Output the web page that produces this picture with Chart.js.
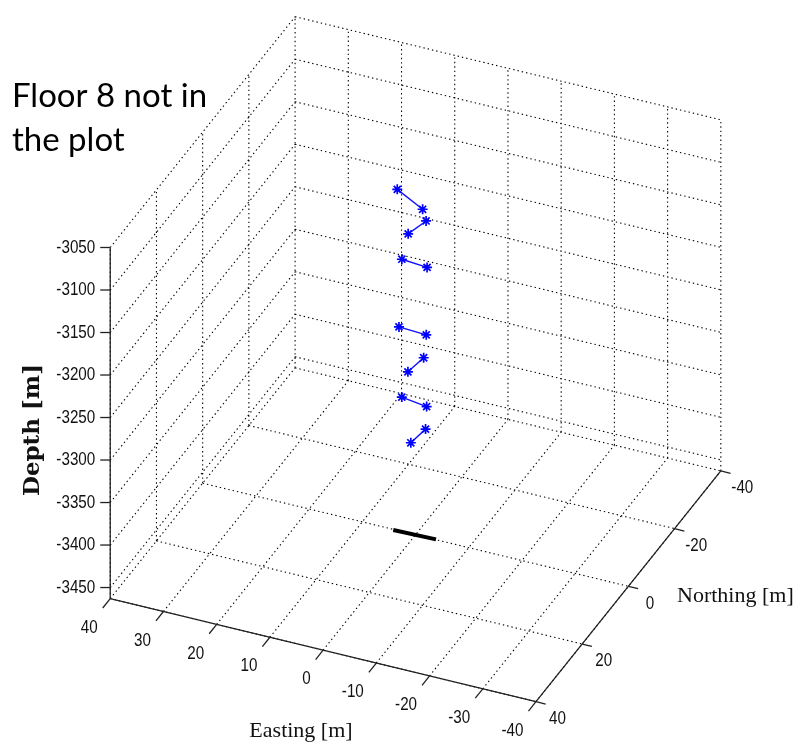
<!DOCTYPE html>
<html><head><meta charset="utf-8">
<script src="https://cdn.jsdelivr.net/npm/chart.js@4"></script>
<style>html,body{margin:0;padding:0;background:#fff}</style>
</head><body>
<canvas id="c" width="800" height="747"></canvas>
<script>
// ---- tick values / axis limits ----
const eastingTicks  = [40, 30, 20, 10, 0, -10, -20, -30, -40];
const northingTicks = [-40, -20, 0, 20, 40];
const depthTicks    = [-3050, -3100, -3150, -3200, -3250, -3300, -3350, -3400, -3450];
const eastingRange  = [-40, 40];
const northingRange = [-40, 40];
const depthRange    = [-3463, -3050];

// ---- data: sensor pairs per floor (start / end point) ----
const floorDepth  = [-3070, -3101, -3144, -3224, -3263, -3307, -3346];
const eastStart   = [4.3, -0.9, 2.7, 3.2, -0.4, 2.8, -0.8];
const eastEnd     = [-2.2, 0.3, -2.3, -2.1, 0.3, -2.3, -0.2];
const northStart  = [-2.0, -2.5, -0.3, -0.2, -2.6, -0.5, -2.5];
const northEnd    = [2.0, 2.5, 0.3, 0.2, 2.6, 0.5, 2.5];

// ---- black line on the floor ----
const lineEasting  = [4.1, -3.8];
const lineNorthing = [0.2, -0.1];
const lineDepth    = [-3463, -3463];

// ---- view (orthographic projection of the 3-D box onto the page) ----
const VIEW = {ox:105.3, oy:602.7, eX:433, eY:105, nX:188, nY:-235, h:357.5};
function proj(E, N, z){
  const a = (eastingRange[1]-E)/(eastingRange[1]-eastingRange[0]);
  const b = (northingRange[1]-N)/(northingRange[1]-northingRange[0]);
  const c = (z-depthRange[0])/(depthRange[1]-depthRange[0]);
  return {x: VIEW.ox + a*VIEW.eX + b*VIEW.nX, y: VIEW.oy + a*VIEW.eY + b*VIEW.nY - c*VIEW.h};
}

const [Emin, Emax] = eastingRange, [Nmin, Nmax] = northingRange, [Zmin, Zmax] = depthRange;
const gridSegs = [];
northingTicks.forEach(n => gridSegs.push([[Emax,n,Zmin],[Emax,n,Zmax]]));
depthTicks.forEach(z => gridSegs.push([[Emax,Nmax,z],[Emax,Nmin,z]]));
eastingTicks.forEach(e => gridSegs.push([[e,Nmin,Zmin],[e,Nmin,Zmax]]));
depthTicks.forEach(z => gridSegs.push([[Emax,Nmin,z],[Emin,Nmin,z]]));
eastingTicks.forEach(e => gridSegs.push([[e,Nmax,Zmin],[e,Nmin,Zmin]]));
northingTicks.forEach(n => gridSegs.push([[Emax,n,Zmin],[Emin,n,Zmin]]));

function segData(segs){
  const out = [];
  segs.forEach(s => { out.push(proj(...s[0])); out.push(proj(...s[1])); out.push({x:null, y:null}); });
  return out;
}
const axisSegs = [
  [[Emax,Nmax,Zmin],[Emax,Nmax,Zmax]],
  [[Emax,Nmax,Zmin],[Emin,Nmax,Zmin]],
  [[Emin,Nmax,Zmin],[Emin,Nmin,Zmin]]
];

const datasets = [];
datasets.push({data: segData(gridSegs), showLine:true, borderColor:'#000', borderWidth:1.1,
  borderDash:[1.4,3], pointRadius:0, spanGaps:false, order:10});
datasets.push({data: segData(axisSegs), showLine:true, borderColor:'#222', borderWidth:1.3,
  pointRadius:0, spanGaps:false, order:9});
datasets.push({data: lineEasting.map((e,i)=>proj(e, lineNorthing[i], lineDepth[i])), showLine:true,
  borderColor:'#000', borderWidth:4, pointRadius:0, order:2});
floorDepth.forEach((z,i) => {
  datasets.push({data:[proj(eastStart[i], northStart[i], z), proj(eastEnd[i], northEnd[i], z)],
    showLine:true, borderColor:'#1010ff', borderWidth:1.4, pointStyle:'star', pointRadius:5,
    pointBorderColor:'#0000ff', pointBorderWidth:1.7, pointBackgroundColor:'#0000ff', order:1});
});

function narrowText(ctx, txt, x, y, align){
  ctx.save();
  ctx.translate(x, y); ctx.scale(0.8, 1);
  ctx.textAlign = align; ctx.textBaseline = 'middle';
  ctx.fillText(txt, 0, 0);
  ctx.restore();
}

const textPlugin = {
  id:'text3d',
  afterDatasetsDraw(chart){
    const ctx = chart.ctx, sx = chart.scales.x, sy = chart.scales.y;
    const px = p => ({x: sx.getPixelForValue(p.x), y: sy.getPixelForValue(p.y)});
    ctx.save();
    ctx.strokeStyle = '#222'; ctx.lineWidth = 1.3; ctx.fillStyle = '#111';
    ctx.font = '19px "Liberation Sans", Arial, sans-serif';
    depthTicks.forEach(z => {
      const p = px(proj(Emax, Nmax, z));
      ctx.beginPath(); ctx.moveTo(p.x, p.y); ctx.lineTo(p.x-10, p.y); ctx.stroke();
      narrowText(ctx, String(z), p.x-15, p.y, 'right');
    });
    eastingTicks.forEach(e => {
      const p = px(proj(e, Nmax, Zmin));
      ctx.beginPath(); ctx.moveTo(p.x, p.y); ctx.lineTo(p.x-7.5, p.y+9.4); ctx.stroke();
      narrowText(ctx, String(e), p.x-12.5, p.y+29, 'right');
    });
    northingTicks.forEach(n => {
      const p = px(proj(Emin, n, Zmin));
      ctx.beginPath(); ctx.moveTo(p.x, p.y); ctx.lineTo(p.x+9.7, p.y+2.4); ctx.stroke();
      narrowText(ctx, String(n), p.x+21.5, p.y+17, 'center');
    });
    ctx.fillStyle = '#111';
    ctx.font = '22px "Liberation Serif", serif';
    ctx.textAlign='center'; ctx.textBaseline='middle';
    ctx.fillText('Easting [m]', 301, 731);
    ctx.textAlign='left';
    ctx.fillText('Northing [m]', 677, 596);
    ctx.save();
    ctx.translate(33, 430); ctx.rotate(-Math.PI/2);
    ctx.font = 'bold 23px "DejaVu Serif", serif';
    ctx.textAlign='center'; ctx.textBaseline='middle';
    ctx.fillText('Depth [m]', 0, 0);
    ctx.restore();
    ctx.fillStyle = '#000';
    ctx.font = '33px Lato, "Noto Sans", sans-serif';
    ctx.textAlign='left'; ctx.textBaseline='alphabetic';
    ctx.fillText('Floor 8 not in', 12, 107);
    ctx.fillText('the plot', 12, 151);
    ctx.restore();
  }
};

new Chart(document.getElementById('c'), {
  type:'scatter',
  data:{datasets},
  options:{
    responsive:false, animation:false, devicePixelRatio:1,
    layout:{padding:0},
    scales:{
      x:{type:'linear', min:0, max:800, display:false},
      y:{type:'linear', min:0, max:747, reverse:true, display:false}
    },
    plugins:{legend:{display:false}, tooltip:{enabled:false}, title:{display:false}}
  },
  plugins:[textPlugin]
});
</script>
</body></html>
